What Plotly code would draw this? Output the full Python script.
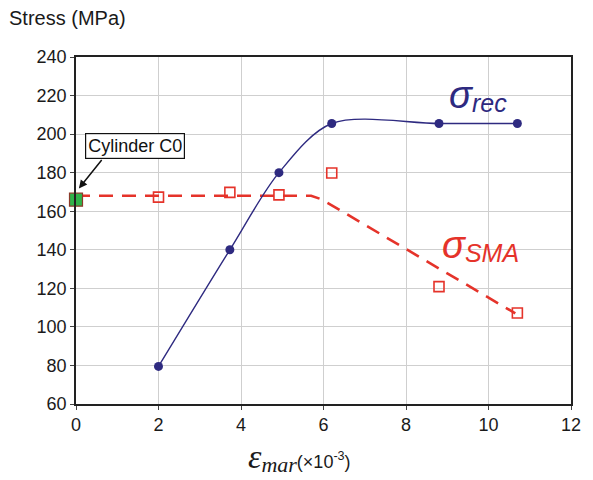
import plotly.graph_objects as go

# data
strain = [2.0, 3.73, 4.92, 6.2, 8.8, 10.7]
sigma_rec = [79.5, 140.0, 180.0, 205.5, 205.5, 205.5]
sigma_sma = [167.3, 169.8, 168.5, 179.8, 120.9, 107.2]
sma_fit_x = [0.0, 5.7, 5.95, 10.65]
sma_fit_y = [168.0, 168.0, 166.2, 107.0]
c0_x = [0.0]
c0_y = [166.0]
x_ticks = [0, 2, 4, 6, 8, 10, 12]
y_ticks = [60, 80, 100, 120, 140, 160, 180, 200, 220, 240]

navy = "#2E2A80"
red = "#E5332A"
font_main = "Liberation Sans, Arial, sans-serif"

fig = go.Figure()

fig.add_trace(go.Scatter(
    x=sma_fit_x, y=sma_fit_y, mode="lines",
    line=dict(color=red, width=2.6, dash="14px,9px", shape="linear"),
    hoverinfo="skip", showlegend=False))

fig.add_trace(go.Scatter(
    x=strain, y=sigma_sma, mode="markers",
    marker=dict(symbol="square-open", size=10, color=red, line=dict(width=1.6, color=red)),
    showlegend=False))

fig.add_trace(go.Scatter(
    x=strain, y=sigma_rec, mode="lines+markers",
    line=dict(color=navy, width=1.4, shape="spline", smoothing=0.9),
    marker=dict(symbol="circle", size=9, color=navy),
    showlegend=False))

fig.add_trace(go.Scatter(
    x=c0_x, y=c0_y, mode="markers",
    marker=dict(symbol="square", size=13, color="#2FB34A", line=dict(width=1.2, color="#8B3A2A")),
    cliponaxis=False, showlegend=False))

fig.update_layout(
    width=593, height=480,
    margin=dict(l=76, r=13, t=57, b=76),
    paper_bgcolor="white", plot_bgcolor="white",
    font=dict(family=font_main, size=18, color="#1a1a1a"),
    xaxis=dict(range=[0, 12], tickvals=x_ticks, ticks="outside", ticklen=4,
               showline=True, linecolor="#222222", linewidth=1.5, mirror=True,
               showgrid=True, gridcolor="#cfcfcf", gridwidth=1, zeroline=False,
               tickfont=dict(size=18, family=font_main, color="#1a1a1a")),
    yaxis=dict(range=[60, 240], tickvals=y_ticks, ticks="outside", ticklen=4,
               showline=True, linecolor="#222222", linewidth=1.5, mirror=True,
               showgrid=True, gridcolor="#cfcfcf", gridwidth=1, zeroline=False,
               tickfont=dict(size=18, family=font_main, color="#1a1a1a")),
)

# y-axis title at top-left
fig.add_annotation(xref="paper", yref="paper", x=-70/504, y=1 + 39/347,
                   xanchor="left", yanchor="middle", showarrow=False,
                   text="Stress (MPa)", font=dict(size=20, family=font_main, color="#1a1a1a"))

# x-axis title
fig.add_annotation(xref="paper", yref="paper", x=(304 - 76) / 504, y=-53/347,
                   xanchor="center", yanchor="middle", showarrow=False,
                   text=("<span style='font-family:Liberation Serif,Times New Roman,serif;font-size:34px'><i>ε</i></span>"
                         "<sub><span style='font-family:Liberation Serif,serif;font-size:22px'><i>mar</i></span></sub>"
                         "<span style='font-size:18px'>(×10<sup>-3</sup>)</span>"),
                   font=dict(size=18, family=font_main, color="#1a1a1a"))

# series labels
fig.add_annotation(x=9.75, y=220, showarrow=False,
                   text=("<span style='font-size:38px'><i>σ</i></span>"
                         "<sub><span style='font-size:25px'><i>rec</i></span></sub>"),
                   font=dict(color=navy, family=font_main))
fig.add_annotation(x=9.8, y=142, showarrow=False,
                   text=("<span style='font-size:38px'><i>σ</i></span>"
                         "<sub><span style='font-size:25px'><i>SMA</i></span></sub>"),
                   font=dict(color=red, family=font_main))

# Cylinder C0 box and arrow
fig.add_annotation(x=1.43, y=194, showarrow=False, text="Cylinder C0",
                   font=dict(size=18, family=font_main, color="#111111"),
                   bgcolor="white", bordercolor="#111111", borderwidth=1.2, borderpad=2)
fig.add_annotation(x=0.07, y=171.8, ax=24, ay=-30, text="", showarrow=True,
                   arrowhead=2, arrowsize=1.1, arrowwidth=1.5, arrowcolor="#111111")

fig.write_html("out.html")
